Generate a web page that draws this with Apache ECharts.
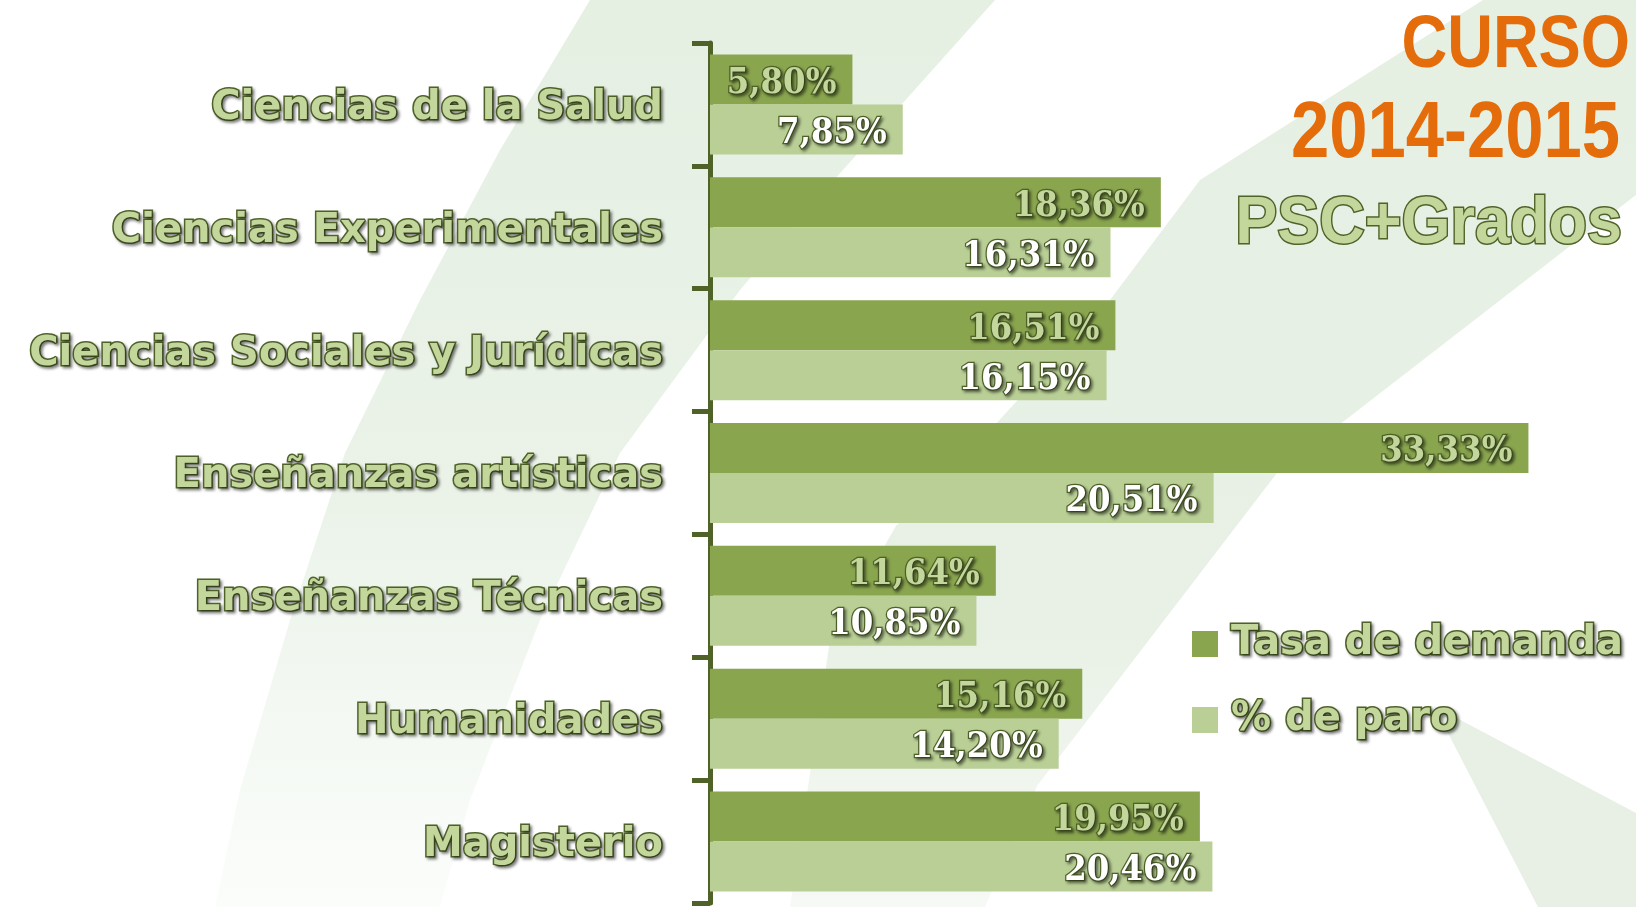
<!DOCTYPE html>
<html><head><meta charset="utf-8">
<script src="https://cdn.jsdelivr.net/npm/echarts@6/dist/echarts.min.js"></script>
<style>html,body{margin:0;padding:0;background:#fff}#c{width:1636px;height:907px}</style>
</head><body><div id="c"></div><script>
const categories = ['Ciencias de la Salud','Ciencias Experimentales','Ciencias Sociales y Jurídicas','Enseñanzas artísticas','Enseñanzas Técnicas','Humanidades','Magisterio'];
const tasaDemanda = [5.80, 18.36, 16.51, 33.33, 11.64, 15.16, 19.95];
const paro = [7.85, 16.31, 16.15, 20.51, 10.85, 14.20, 20.46];
const seriesNames = ['Tasa de demanda', '% de paro'];
const titleLines = ['CURSO', '2014-2015', 'PSC+Grados'];

const DARK = '#89a54e', LIGHT = '#b9cf96', AXIS = '#4f6228', PALE = '#c3d69b', BG = '#e5efe2';
const fmt = p => p.value.toFixed(2).replace('.', ',') + '%';
const outlined = (fill, size, family, weight, bw) => ({
  color: fill, fontSize: size, fontFamily: family, fontWeight: weight,
  textBorderColor: AXIS, textBorderWidth: bw,
  textShadowColor: 'rgba(0,0,0,0.4)', textShadowBlur: 3, textShadowOffsetX: 2, textShadowOffsetY: 2
});

const chart = echarts.init(document.getElementById('c'), null, {renderer: 'canvas'});
chart.setOption({
  backgroundColor: '#ffffff',
  animation: false,
  graphic: [
    {type: 'polygon', z: -10, silent: true, shape: {points: [[590,0],[995,0],[834,180],[740,290],[620,453],[540,620],[470,800],[440,907],[215,907],[240,790],[290,620],[345,453],[420,300],[500,150]]},
      style: {fill: new echarts.graphic.LinearGradient(0,0,0,1,[{offset:0,color:BG},{offset:0.55,color:'#ebf3e9'},{offset:1,color:'#fbfdfb'}])}},
    {type: 'polygon', z: -10, silent: true, shape: {points: [[1483,0],[1636,0],[1636,195],[1277,473],[1037,786],[985,907],[790,907],[830,640],[896,526],[969,453],[1110,300],[1200,180]]},
      style: {fill: new echarts.graphic.LinearGradient(0,0,0,1,[{offset:0,color:BG},{offset:0.7,color:'#e9f1e6'},{offset:1,color:'#f6f9f5'}])}},
    {type: 'polygon', z: -10, silent: true, shape: {points: [[1434,706],[1636,813],[1636,907],[1538,907]]},
      style: {fill: '#e8f0e5'}},
    {type: 'text', z: 10, x: 1630, y: 47, scaleX: 0.855, style: {text: titleLines[0], x: 0, y: 0, align: 'right', verticalAlign: 'middle',
      font: 'bold 74px "Liberation Sans", Arial', fill: '#e46c0a'}},
    {type: 'text', z: 10, x: 1620, y: 135, scaleX: 0.86, style: {text: titleLines[1], x: 0, y: 0, align: 'right', verticalAlign: 'middle',
      font: 'bold 80px "Liberation Sans", Arial', fill: '#e46c0a'}},
    {type: 'text', z: 10, x: 1622, y: 225, scaleX: 0.94, style: {text: titleLines[2], x: 0, y: 0, align: 'right', verticalAlign: 'middle',
      font: 'bold 67px "Liberation Sans", Arial', fill: PALE, stroke: AXIS, lineWidth: 3,
      shadowColor: 'rgba(0,0,0,0.4)', shadowBlur: 3, shadowOffsetX: 2, shadowOffsetY: 2}}
  ],
  legend: {
    data: seriesNames, orient: 'vertical', left: 1192, top: 617, padding: 0,
    itemWidth: 26, itemHeight: 26, itemGap: 22, icon: 'rect',
    textStyle: Object.assign(outlined(PALE, 40, '"DejaVu Sans"', 'bold', 3), {padding: [14,0,0,8], lineHeight: 40})
  },
  grid: {left: 710, top: 43, width: 884, height: 860, containLabel: false},
  xAxis: {type: 'value', min: 0, max: 36, show: false},
  yAxis: {
    type: 'category', data: categories, inverse: true,
    axisLine: {show: true, lineStyle: {color: AXIS, width: 5}},
    axisTick: {show: true, length: 18, lineStyle: {color: AXIS, width: 5}},
    axisLabel: Object.assign(outlined(PALE, 40, '"DejaVu Sans"', 'bold', 3), {margin: 47, verticalAlign: 'top', lineHeight: 8}),
    splitLine: {show: false}
  },
  series: [
    {name: seriesNames[0], type: 'bar', data: tasaDemanda, barWidth: 50, barGap: '0%', itemStyle: {color: DARK},
      label: Object.assign(outlined(PALE, 36, '"DejaVu Serif Condensed", "DejaVu Serif"', 'bold', 2.5), {show: true, position: 'insideRight', distance: 16, offset: [0, 4], formatter: fmt})},
    {name: seriesNames[1], type: 'bar', data: paro, barWidth: 50, barGap: '0%', itemStyle: {color: LIGHT},
      label: Object.assign(outlined('#ffffff', 36, '"DejaVu Serif Condensed", "DejaVu Serif"', 'bold', 2.5), {show: true, position: 'insideRight', distance: 16, offset: [0, 4], formatter: fmt})}
  ]
});
</script></body></html>
